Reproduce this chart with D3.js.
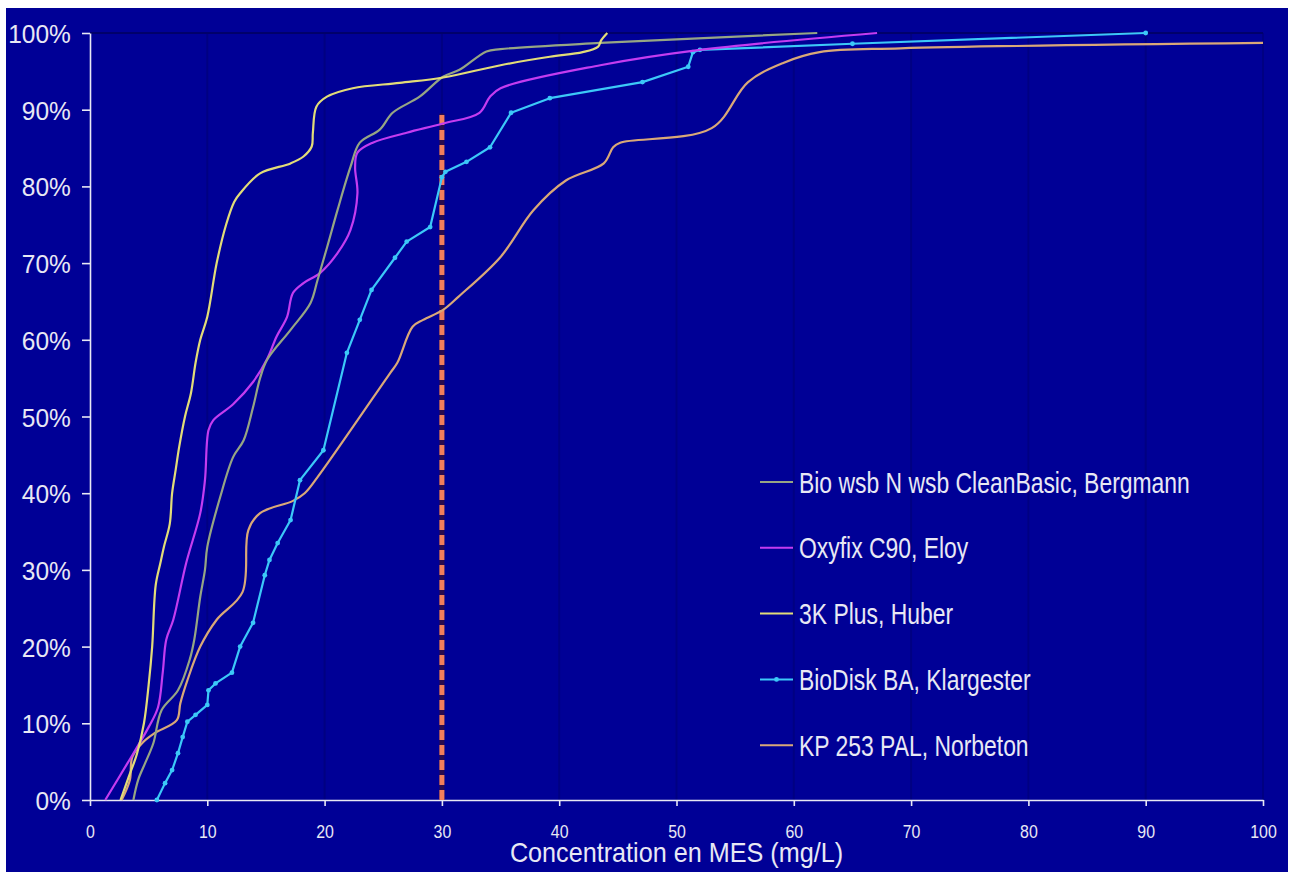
<!DOCTYPE html>
<html><head><meta charset="utf-8">
<script src="https://cdn.jsdelivr.net/npm/d3@7"></script>
<style>html,body{margin:0;padding:0;background:#fff;overflow:hidden}</style>
</head><body><svg id="c" width="1290" height="872"></svg>
<script>
// ---- data ----
const seriesNames = ["Bio wsb N wsb CleanBasic, Bergmann", "Oxyfix C90, Eloy", "3K Plus, Huber", "BioDisk BA, Klargester", "KP 253 PAL, Norbeton"];
const seriesColors = ["#96A584", "#C43CF0", "#E2DC78", "#3CC8F8", "#D9A878"];
const xTicks = [0,10,20,30,40,50,60,70,80,90,100];
const yTicks = [0,10,20,30,40,50,60,70,80,90,100];
const yTickLabels = ["0%","10%","20%","30%","40%","50%","60%","70%","80%","90%","100%"];
const xTitle = "Concentration en MES (mg/L)";
const limitX = 30, limitTop = 89.5;

const bergmannX = [3.7,4.1,4.7,5.4,6.1,7.5,8.5,8.9,9.4,9.8,10.0,11.1,12.2,13.1,13.9,14.5,15.1,17.1,18.8,19.4,20.2,21.1,22.2,23.0,24.7,25.8,28.1,30.1,31.5,33.8,35.0,43.5,62.0];
const bergmannY = [0,2.6,4.8,7.4,11.7,14.3,18.3,21,26.5,30,33,39.5,44.7,46.9,51.2,55,57.4,61.3,64.8,67.8,72,76.9,82.5,85.7,87.4,89.6,91.7,94.3,95.2,97.6,97.9,98.7,100];

const oxyfixX = [1.3,3.2,5.0,5.8,6.2,6.5,7.1,8.2,9.4,9.8,10.1,10.5,12.2,13.9,15.1,15.9,16.8,17.3,18.2,19.6,21.1,22.2,22.8,22.6,22.8,24.1,27.0,30.1,33.2,34.1,35.0,43.5,52.0,67.1];
const oxyfixY = [0,4.8,9.5,12.1,16.6,20.9,23.5,30.9,37.4,41.7,48.2,49.5,51.6,54.5,57.5,60.4,63.0,66.1,67.4,68.7,71.3,74.3,79.1,82.5,84.4,85.7,87.0,88.2,89.6,91.7,92.8,95.8,97.8,100];

const huberX = [2.6,3.3,4.0,4.6,5.0,5.3,5.6,6.0,6.3,6.8,7.0,7.3,7.6,8.1,8.6,9.0,9.4,10.0,10.8,11.6,12.3,12.8,14.5,17.1,18.2,18.9,19.0,19.3,20.2,22.4,26.4,30.1,35.0,39.2,42.0,43.3,43.6,44.1];
const huberY = [0,3,6,10,15,20,28,30.9,33,36,40,43,46,50,53,57,60,63,70,75,78,79.1,81.7,83.0,83.9,85.2,87.0,90.4,91.7,92.8,93.5,94.2,95.8,96.9,97.5,98.2,99.1,100];

const klargesterX = [5.7,6.4,7.0,7.5,7.9,8.3,9.0,10.0,10.1,10.7,12.1,12.8,13.9,14.9,15.3,16.0,17.1,17.9,19.9,21.9,23.0,24.0,26.0,27.0,29.0,30.0,30.3,32.1,34.1,35.9,39.2,47.1,51.0,51.4,52.0,65.0,90.0];
const klargesterY = [0,2.2,3.9,6.1,8.2,10.2,11.1,12.4,14.3,15.2,16.6,20.0,23.1,29.3,31.3,33.5,36.5,41.7,45.6,58.3,62.6,66.5,70.7,72.8,74.7,81.2,81.9,83.2,85.1,89.6,91.5,93.6,95.6,97.5,97.8,98.6,100];

const norbetonX = [2.7,3.4,3.6,4.5,5.5,7.4,7.7,8.3,9.4,10.8,13.0,13.5,14.5,17.3,18.3,19.4,25.6,26.2,27.5,28.4,30.1,31.4,35.0,37.8,40.6,43.8,44.6,45.2,53.0,56.1,59.1,62.2,69.1,100];
const norbetonY = [0,2.6,5.6,7.5,8.7,10.4,12.6,15.6,20.0,23.5,27.1,35.2,37.4,39.0,40.0,42.1,55.7,57.0,61.7,62.6,63.9,65.6,70.8,76.9,80.8,83.0,85.1,85.7,87.6,93.6,96.1,97.5,98.0,98.7];

const seriesX = [bergmannX, oxyfixX, huberX, klargesterX, norbetonX];
const seriesY = [bergmannY, oxyfixY, huberY, klargesterY, norbetonY];
const seriesMarkers = [false, false, false, true, false];

// ---- drawing ----
const svg = d3.select("#c");
const FONT = "'Liberation Sans', Arial, Helvetica, sans-serif";
const TXT = "#E8E8F4";
const BG = "#000096";

svg.append("rect").attr("x",6).attr("y",8).attr("width",1282).attr("height",864).attr("fill",BG);

const x = d3.scaleLinear().domain([0,100]).range([90,1263]);
const y = d3.scaleLinear().domain([0,100]).range([800,33]);

// grid (subtle darker lines)
svg.append("g").selectAll("line").data(xTicks.slice(1)).join("line")
  .attr("x1",d=>x(d)).attr("x2",d=>x(d)).attr("y1",y(100)).attr("y2",y(0))
  .attr("stroke","#000082").attr("stroke-width",2);
svg.append("line").attr("x1",x(0)).attr("x2",x(100)).attr("y1",y(100)).attr("y2",y(100))
  .attr("stroke","#00006A").attr("stroke-width",2);

// x axis
const gx = svg.append("g").attr("transform",`translate(0,${y(0)})`)
  .call(d3.axisBottom(x).tickValues(xTicks).tickSize(6).tickSizeOuter(0).tickFormat(d3.format("d")));
gx.select(".domain").attr("stroke","#E8E8F4").attr("stroke-width",1.6);
gx.selectAll(".tick line").attr("stroke","#E8E8F4").attr("stroke-width",1.6);
gx.selectAll(".tick text").attr("y",38).attr("dy",null)
  .attr("fill",TXT).style("font-family",FONT).style("font-size","18.5px")
  .attr("transform","scale(0.86,1)");

// y axis
const gy = svg.append("g").attr("transform",`translate(${x(0)},0)`)
  .call(d3.axisLeft(y).tickValues(yTicks).tickSize(8).tickSizeOuter(0).tickFormat((d,i)=>yTickLabels[i]));
gy.select(".domain").attr("stroke","#E8E8F4").attr("stroke-width",1.6);
gy.selectAll(".tick line").attr("stroke","#E8E8F4").attr("stroke-width",1.6);
gy.selectAll(".tick text").attr("x",-20).attr("dy",null).attr("y",9.5)
  .attr("fill",TXT).style("font-family",FONT).style("font-size","25.5px")
  .attr("text-anchor","end").attr("transform","scale(0.96,1)");

// x title
svg.append("text").attr("transform",`translate(${(x(0)+x(100))/2},862) scale(0.9,1)`)
  .attr("text-anchor","middle").attr("fill",TXT).style("font-family",FONT).style("font-size","28px")
  .text(xTitle);

// limit line at 30 mg/L
svg.append("line").attr("x1",x(limitX)).attr("x2",x(limitX)).attr("y1",y(0)).attr("y2",y(limitTop))
  .attr("stroke","#2A0C50").attr("stroke-width",5);
svg.append("line").attr("x1",x(limitX)).attr("x2",x(limitX)).attr("y1",y(0)).attr("y2",y(limitTop))
  .attr("stroke","#F27E5C").attr("stroke-width",5).attr("stroke-dasharray","10,5");

// series
const drawOrder = [4,3,1,0,2];
drawOrder.forEach(i=>{
  const pts = seriesX[i].map((v,k)=>[v, seriesY[i][k]]);
  const line = d3.line().x(d=>x(d[0])).y(d=>y(d[1]))
    .curve(seriesMarkers[i] ? d3.curveLinear : d3.curveCatmullRom.alpha(0.5));
  svg.append("path").attr("d",line(pts)).attr("fill","none")
    .attr("stroke",seriesColors[i]).attr("stroke-width",2.2).attr("stroke-linejoin","round");
  if (seriesMarkers[i]) {
    svg.append("g").selectAll("circle").data(pts).join("circle")
      .attr("cx",d=>x(d[0])).attr("cy",d=>y(d[1])).attr("r",2.4).attr("fill",seriesColors[i]);
  }
});

// legend
const lg = svg.append("g");
seriesNames.forEach((name,i)=>{
  const ly = 482 + i*65.8;
  lg.append("line").attr("x1",760).attr("x2",793).attr("y1",ly).attr("y2",ly)
    .attr("stroke",seriesColors[i]).attr("stroke-width",2);
  if (seriesMarkers[i]) lg.append("circle").attr("cx",776.5).attr("cy",ly).attr("r",2.4).attr("fill",seriesColors[i]);
  lg.append("text").attr("transform",`translate(799,${ly+10.5}) scale(0.79,1)`)
    .attr("fill",TXT).style("font-family",FONT).style("font-size","29px").text(name);
});
</script>
</body></html>
